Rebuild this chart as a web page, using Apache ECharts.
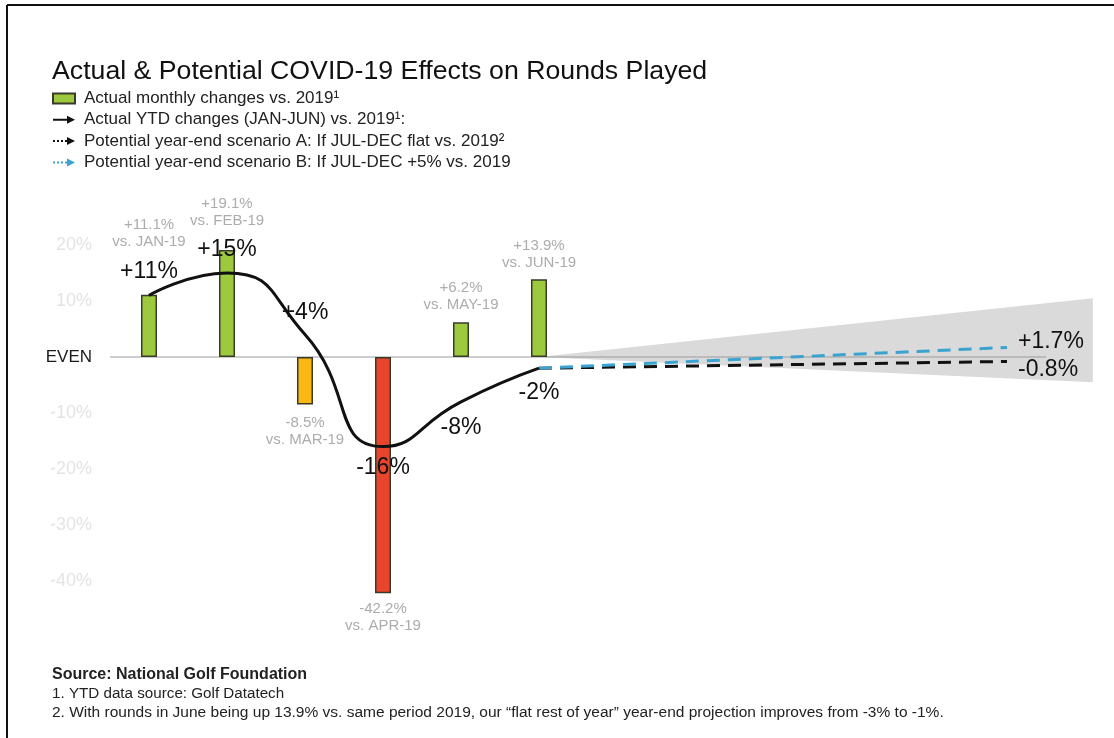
<!DOCTYPE html>
<html><head><meta charset="utf-8">
<script src="https://cdn.jsdelivr.net/npm/echarts@6/dist/echarts.min.js"></script>
<style>html,body{margin:0;padding:0;background:#fff}#chart{width:1114px;height:738px}</style>
</head><body><div id="chart"></div>
<script>
// ---------- data ----------
const months = ['JAN', 'FEB', 'MAR', 'APR', 'MAY', 'JUN'];
const monthX = [1, 2, 3, 4, 5, 6];
const monthlyChange = [11.1, 19.1, -8.5, -42.2, 6.2, 13.9];
const ytdChange = [11, 15, 4, -16, -8, -2];
const scenarioX = [6, 12];
const scenarioA = [-2, -0.8];
const scenarioB = [-2, 1.7];
const rangeX = [6, 13.1];
const rangeTop = [0, 10.5];
const rangeBottom = [0, -4.5];
const zeroLineX = [0.5, 12.5];
const yTicks = [20, 10, 0, -10, -20, -30, -40];

// ---------- styles ----------
const FONT = 'Liberation Sans, Arial, Helvetica, sans-serif';
const barColors = ['#9dc93f', '#9dc93f', '#fbb714', '#e8452c', '#9dc93f', '#9dc93f'];
const barLabelDist = [44, 20.5, 10, 7, 9, 8];
const lineLabelPos = ['top', 'top', 'top', 'bottom', 'bottom', 'bottom'];
const lineLabelDist = [12, 11, 10, 9, 14, 12.5];

const fmtPct = v => (v > 0 ? '+' : '') + v + '%';

const names = {
  bar: 'Actual monthly changes vs. 2019\u00b9',
  ytd: 'Actual YTD changes (JAN-JUN) vs. 2019\u00b9:',
  a: 'Potential year-end scenario A: If JUL-DEC flat vs. 2019\u00b2',
  b: 'Potential year-end scenario B: If JUL-DEC +5% vs. 2019'
};

const chart = echarts.init(document.getElementById('chart'), null, {renderer: 'canvas'});

const footer = (text, y, font) => ({
  type: 'text', silent: true,
  style: {x: 52, y: y, text: text, font: font, fill: '#222', verticalAlign: 'middle', textVerticalAlign: 'middle'}
});

const option = {
  animation: false,
  backgroundColor: '#fff',
  textStyle: {fontFamily: FONT},
  title: {
    text: 'Actual & Potential COVID-19 Effects on Rounds Played',
    left: 47, top: 53,
    textStyle: {fontFamily: FONT, fontSize: 26.7, fontWeight: 'normal', color: '#111'}
  },
  legend: {
    orient: 'vertical', left: 47, top: 84.5,
    itemWidth: 22, itemHeight: 10, itemGap: 3.3,
    selectedMode: false,
    textStyle: {fontFamily: FONT, fontSize: 17, color: '#222', lineHeight: 18, padding: [0, 0, 0, 4]},
    data: [
      {name: names.bar, icon: 'rect'},
      {name: names.ytd, icon: 'path://M0,4H15V6H0Z M14,1L22,5L14,9Z', itemStyle: {color: '#111', borderWidth: 0}},
      {name: names.a, icon: 'path://M0,4H2V6H0Z M4,4H6V6H4Z M8,4H10V6H8Z M12,4H14V6H12Z M14,1L22,5L14,9Z', itemStyle: {color: '#111', borderWidth: 0}},
      {name: names.b, icon: 'path://M0,4H2V6H0Z M4,4H6V6H4Z M8,4H10V6H8Z M12,4H14V6H12Z M14,1L22,5L14,9Z', itemStyle: {color: '#3ba3d0', borderWidth: 0}}
    ]
  },
  grid: {left: 110, right: 21.2, top: 189, bottom: 101},
  xAxis: {type: 'value', min: 0.5, max: 13.1, show: false},
  yAxis: {
    type: 'value', min: -50, max: 30, interval: 10,
    splitLine: {show: false}, axisLine: {show: false}, axisTick: {show: false},
    axisLabel: {
      margin: 18,
      fontFamily: FONT, fontSize: 18, color: '#e4e4e4',
      formatter: v => v === 0 ? '{even|EVEN}' : (yTicks.indexOf(v) >= 0 ? v + '%' : ''),
      rich: {even: {fontFamily: FONT, fontSize: 17, color: '#1a1a1a'}}
    }
  },
  graphic: [
    {type: 'line', silent: true, shape: {x1: 7, y1: 5, x2: 1114, y2: 5}, style: {stroke: '#111', lineWidth: 2}},
    {type: 'line', silent: true, shape: {x1: 7, y1: 5, x2: 7, y2: 738}, style: {stroke: '#111', lineWidth: 2}},
    footer('Source: National Golf Foundation', 675, 'bold 16px ' + FONT),
    footer('1. YTD data source: Golf Datatech', 694, '15.2px ' + FONT),
    footer('2. With rounds in June being up 13.9% vs. same period 2019, our \u201cflat rest of year\u201d year-end projection improves from -3% to -1%.', 713, '15.5px ' + FONT)
  ],
  series: [
    {
      type: 'custom', name: 'range', silent: true, z: 0,
      encode: {x: 0, y: [1, 2]},
      data: rangeX.map((x, i) => [x, rangeTop[i], rangeBottom[i]]),
      renderItem: (params, api) => {
        if (params.dataIndex !== 0) return null;
        const pts = [
          api.coord([rangeX[0], rangeTop[0]]),
          api.coord([rangeX[1], rangeTop[1]]),
          api.coord([rangeX[1], rangeBottom[1]]),
          api.coord([rangeX[0], rangeBottom[0]])
        ];
        return {type: 'polygon', shape: {points: pts}, style: {fill: '#dadada'}};
      }
    },
    {
      type: 'line', name: 'zero', silent: true, z: 1,
      data: zeroLineX.map(x => [x, 0]),
      symbol: 'none', lineStyle: {color: '#9a9a9a', width: 1}
    },
    {
      type: 'bar', name: names.bar, z: 3,
      barWidth: 16,
      itemStyle: {color: barColors[0], borderColor: '#3a3a2a', borderWidth: 1.5},
      data: monthX.map((x, i) => ({
        value: [x, monthlyChange[i]],
        itemStyle: {color: barColors[i]},
        label: {
          show: true,
          position: monthlyChange[i] >= 0 ? 'top' : 'bottom',
          distance: barLabelDist[i],
          formatter: (monthlyChange[i] > 0 ? '+' : '') + monthlyChange[i].toFixed(1) + '%\nvs. ' + months[i] + '-19',
          fontFamily: FONT, fontSize: 15, lineHeight: 17, color: '#acacac', align: 'center'
        }
      }))
    },
    {
      type: 'line', name: names.ytd, z: 5,
      smooth: 0.55, symbol: 'circle', symbolSize: 1, showSymbol: true,
      lineStyle: {color: '#111', width: 3},
      itemStyle: {color: '#111'},
      data: monthX.map((x, i) => ({
        value: [x, ytdChange[i]],
        label: {
          show: true, position: lineLabelPos[i], distance: lineLabelDist[i],
          formatter: fmtPct(ytdChange[i]),
          fontFamily: FONT, fontSize: 23, color: '#111'
        }
      }))
    },
    {
      type: 'line', name: names.a, z: 4, symbol: 'none',
      lineStyle: {color: '#111', width: 3, type: [13, 8]},
      itemStyle: {color: '#111'},
      data: scenarioX.map((x, i) => [x, scenarioA[i]]),
      endLabel: {show: true, formatter: fmtPct(scenarioA[1]), fontFamily: FONT, fontSize: 23, color: '#111', distance: 11, offset: [0, 8.5]}
    },
    {
      type: 'line', name: names.b, z: 4, symbol: 'none',
      lineStyle: {color: '#3ba3d0', width: 3, type: [13, 8]},
      itemStyle: {color: '#3ba3d0'},
      data: scenarioX.map((x, i) => [x, scenarioB[i]]),
      endLabel: {show: true, formatter: fmtPct(scenarioB[1]), fontFamily: FONT, fontSize: 23, color: '#111', distance: 11, offset: [0, -5.5]}
    }
  ]
};
chart.setOption(option);
</script>
</body></html>
